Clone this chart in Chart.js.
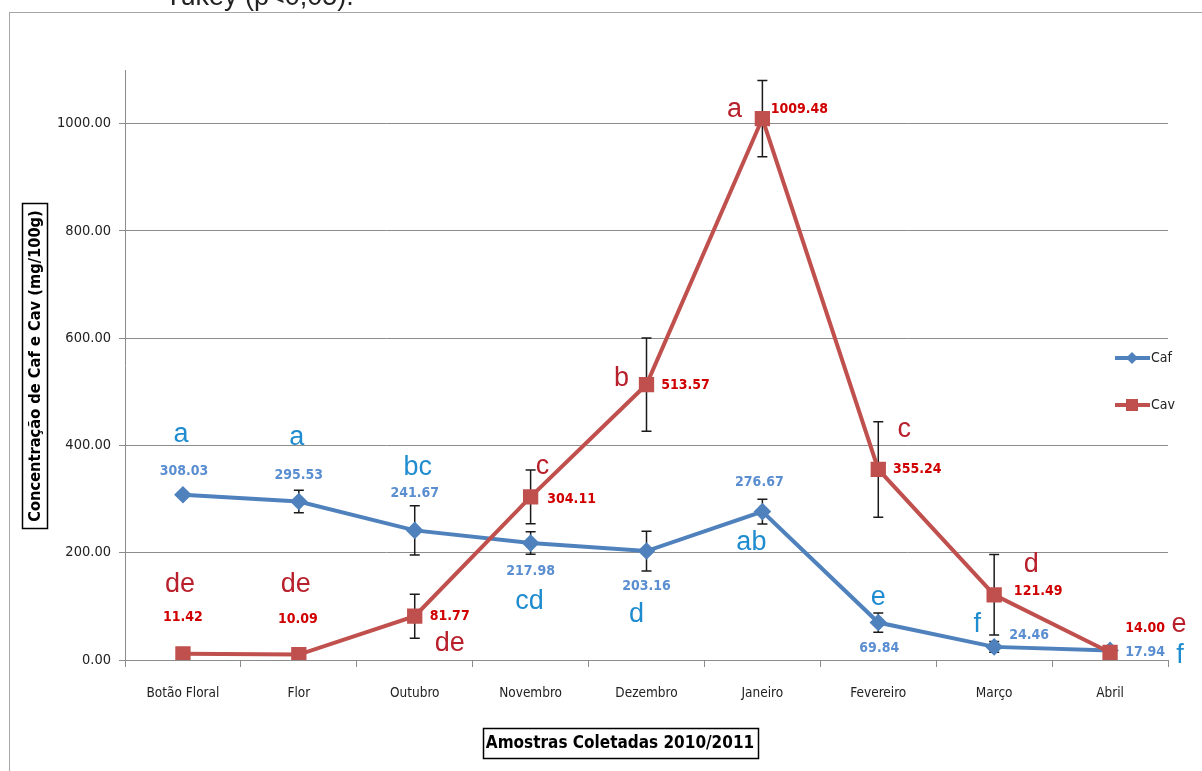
<!DOCTYPE html>
<html>
<head>
<meta charset="utf-8">
<title>Caf e Cav</title>
<script src="https://cdn.jsdelivr.net/npm/chart.js@4.4.0/dist/chart.umd.min.js"></script>
<style>
  html, body { margin: 0; padding: 0; background: #fff; }
  #wrap { width: 1202px; height: 771px; }
</style>
</head>
<body>
<div id="wrap"><canvas id="myChart" width="1202" height="771"></canvas></div>
<script>
const months = ['Botão Floral', 'Flor', 'Outubro', 'Novembro', 'Dezembro', 'Janeiro', 'Fevereiro', 'Março', 'Abril'];
const caf = [308.03, 295.53, 241.67, 217.98, 203.16, 276.67, 69.84, 24.46, 17.94];
const cav = [11.42, 10.09, 81.77, 304.11, 513.57, 1009.48, 355.24, 121.49, 14.00];
const cafErr = [0, 21, 46, 21, 37, 23, 18, 10, 4];
const cavErr = [0, 0, 41, 50, 87, 71, 89, 75, 4];
const cafLetters = ['a', 'a', 'bc', 'cd', 'd', 'ab', 'e', 'f', 'f'];
const cavLetters = ['de', 'de', 'de', 'c', 'b', 'a', 'c', 'd', 'e'];
const yTicks = [0, 200, 400, 600, 800, 1000];

const NARROW = '"DejaVu Sans Condensed", "Liberation Sans Narrow", "Liberation Sans", Arial, sans-serif';
const SANS = '"Liberation Sans", Arial, sans-serif';

const CAF_COLOR = '#4f81bd';
const CAV_COLOR = '#c0504d';

// label offsets from each point, in pixels: [dx, dy]
const cafValueOffset = [[1, -23], [0, -26], [0, -37], [0, 28], [0, 35], [-3, -29], [1, 26], [35, -12], [35, 2]];
const cafLetterOffset = [[-2, -60], [-2, -64], [3, -63], [-1, 58], [-10, 64], [-11, 31], [0, -25], [-17, -22], [70, 5]];
const cavValueOffset = [[0, -37], [-1, -35], [35, 0], [41, 2], [39, 1], [37, -9], [39, 0], [44, -3], [35, -24]];
const cavLetterOffset = [[-3, -69], [-3, -70], [35, 27], [12, -30], [-25, -6], [-28, -9], [26, -40], [37, -30], [69, -28]];

Chart.defaults.font.family = NARROW;

const pageDeco = {
  id: 'pageDeco',
  beforeDraw(chart) {
    const ctx = chart.ctx;
    ctx.save();
    ctx.fillStyle = '#fff';
    ctx.fillRect(0, 0, chart.width, chart.height);
    // caption line above the frame
    ctx.fillStyle = '#222';
    ctx.font = '27px ' + SANS;
    ctx.textBaseline = 'alphabetic';
    ctx.textAlign = 'left';
    ctx.fillText('Tukey (p<0,05).', 165, 5);
    // outer frame
    ctx.strokeStyle = '#a6a6a6';
    ctx.lineWidth = 1;
    ctx.strokeRect(9.5, 12.5, 1300, 900);
    ctx.restore();
  },
  afterDraw(chart) {
    const ctx = chart.ctx;
    ctx.save();
    // y axis title box
    ctx.strokeStyle = '#000';
    ctx.lineWidth = 1.5;
    ctx.strokeRect(22.5, 203.5, 25, 325);
    ctx.translate(35, 366);
    ctx.rotate(-Math.PI / 2);
    ctx.fillStyle = '#000';
    ctx.font = 'bold 16.3px ' + NARROW;
    ctx.textAlign = 'center';
    ctx.textBaseline = 'middle';
    ctx.fillText('Concentração de Caf e Cav (mg/100g)', 0, 1);
    ctx.restore();

    ctx.save();
    // x axis title box
    ctx.strokeStyle = '#000';
    ctx.lineWidth = 1.5;
    ctx.strokeRect(483.5, 728.5, 275, 30);
    ctx.fillStyle = '#000';
    ctx.font = 'bold 17px ' + NARROW;
    ctx.textAlign = 'center';
    ctx.textBaseline = 'middle';
    ctx.fillText('Amostras Coletadas 2010/2011', 620, 744);
    ctx.restore();

    // legend
    ctx.save();
    chart.data.datasets.forEach((ds, i) => {
      const y = i === 0 ? 358 : 405;
      ctx.strokeStyle = ds.borderColor;
      ctx.lineWidth = 4;
      ctx.beginPath();
      ctx.moveTo(1115, y);
      ctx.lineTo(1150, y);
      ctx.stroke();
      ctx.fillStyle = ds.borderColor;
      if (ds.pointStyle === 'rect') {
        ctx.fillRect(1126, y - 6, 12, 12);
      } else {
        ctx.beginPath();
        ctx.moveTo(1132, y - 6);
        ctx.lineTo(1138, y);
        ctx.lineTo(1132, y + 6);
        ctx.lineTo(1126, y);
        ctx.closePath();
        ctx.fill();
      }
      ctx.fillStyle = '#222';
      ctx.font = '14px ' + NARROW;
      ctx.textAlign = 'left';
      ctx.textBaseline = 'middle';
      ctx.fillText(ds.label, 1151, y);
    });
    ctx.restore();
  }
};

const errorBars = {
  id: 'errorBars',
  beforeDatasetsDraw(chart) {
    const ctx = chart.ctx;
    const ys = chart.scales.y;
    const errs = [cafErr, cavErr];
    ctx.save();
    ctx.strokeStyle = '#1a1a1a';
    ctx.lineWidth = 1.5;
    chart.data.datasets.forEach((ds, di) => {
      const meta = chart.getDatasetMeta(di);
      meta.data.forEach((pt, i) => {
        const e = errs[di][i];
        if (!e) return;
        const v = ds.data[i];
        const top = ys.getPixelForValue(v + e);
        const bot = ys.getPixelForValue(Math.max(0, v - e));
        ctx.beginPath();
        ctx.moveTo(pt.x, top);
        ctx.lineTo(pt.x, bot);
        ctx.moveTo(pt.x - 5, top);
        ctx.lineTo(pt.x + 5, top);
        ctx.moveTo(pt.x - 5, bot);
        ctx.lineTo(pt.x + 5, bot);
        ctx.stroke();
      });
    });
    ctx.restore();
  }
};

const pointLabels = {
  id: 'pointLabels',
  afterDatasetsDraw(chart) {
    const ctx = chart.ctx;
    const sets = [
      { values: caf, letters: cafLetters, vOff: cafValueOffset, lOff: cafLetterOffset, vColor: '#5a8ed0', lColor: '#1f8cd0' },
      { values: cav, letters: cavLetters, vOff: cavValueOffset, lOff: cavLetterOffset, vColor: '#d00000', lColor: '#b8202c' }
    ];
    ctx.save();
    ctx.textAlign = 'center';
    ctx.textBaseline = 'middle';
    sets.forEach((s, di) => {
      const meta = chart.getDatasetMeta(di);
      meta.data.forEach((pt, i) => {
        ctx.fillStyle = s.vColor;
        ctx.font = 'bold 14px ' + NARROW;
        ctx.fillText(s.values[i].toFixed(2), pt.x + s.vOff[i][0], pt.y + s.vOff[i][1]);
        ctx.fillStyle = s.lColor;
        ctx.font = '27px ' + SANS;
        ctx.fillText(s.letters[i], pt.x + s.lOff[i][0], pt.y + s.lOff[i][1]);
      });
    });
    ctx.restore();
  }
};

const ctx = document.getElementById('myChart').getContext('2d');
new Chart(ctx, {
  type: 'line',
  data: {
    labels: months,
    datasets: [
      {
        label: 'Caf',
        data: caf,
        borderColor: CAF_COLOR,
        backgroundColor: CAF_COLOR,
        borderWidth: 4,
        pointStyle: 'rectRot',
        pointRadius: 6,
        pointHoverRadius: 6,
        tension: 0,
        order: 1
      },
      {
        label: 'Cav',
        data: cav,
        borderColor: CAV_COLOR,
        backgroundColor: CAV_COLOR,
        borderWidth: 4,
        pointStyle: 'rect',
        pointRadius: 8,
        pointHoverRadius: 8,
        tension: 0,
        order: 0
      }
    ]
  },
  options: {
    responsive: false,
    animation: false,
    devicePixelRatio: 1,
    layout: { padding: { top: 70, right: 34, left: 0, bottom: 0 } },
    plugins: {
      legend: { display: false },
      tooltip: { enabled: false }
    },
    scales: {
      x: {
        offset: true,
        grid: { offset: true, drawOnChartArea: false, tickLength: 7, color: '#8c8c8c' },
        border: { color: '#8c8c8c' },
        ticks: { color: '#222', font: { size: 13.5 }, padding: 18, maxRotation: 0, autoSkip: false },
        afterFit(scale) { scale.height = 111; }
      },
      y: {
        min: 0,
        max: 1100,
        afterBuildTicks(scale) { scale.ticks = yTicks.map(v => ({ value: v })); },
        ticks: { color: '#222', font: { size: 14.5 }, padding: 8, callback: v => Number(v).toFixed(2) },
        grid: { color: '#8c8c8c', tickLength: 6 },
        border: { color: '#8c8c8c' },
        afterFit(scale) { scale.width = 125; }
      }
    }
  },
  plugins: [pageDeco, errorBars, pointLabels]
});
</script>
</body>
</html>
